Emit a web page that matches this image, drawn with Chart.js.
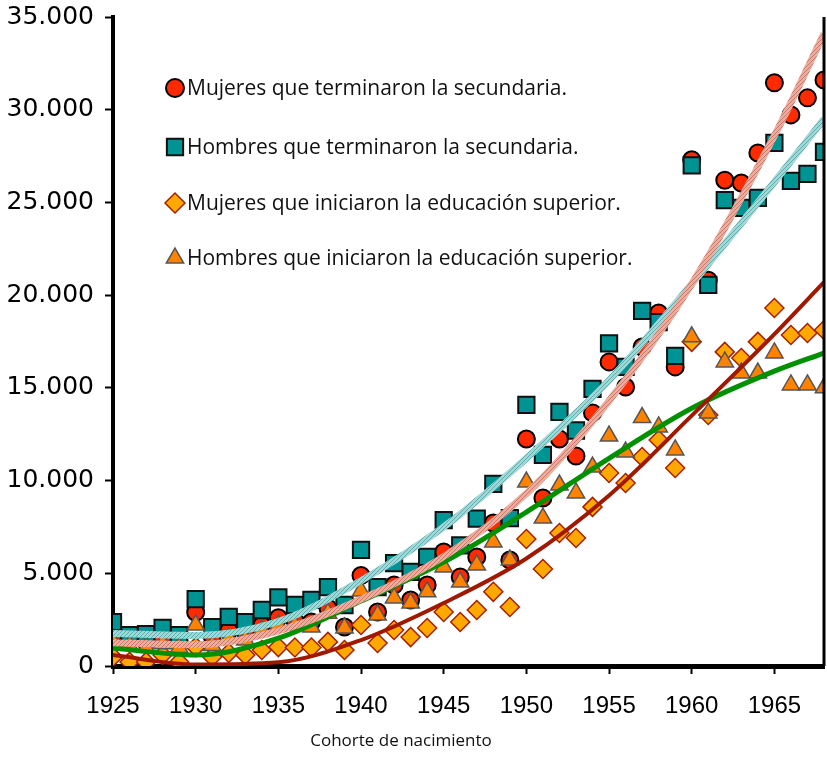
<!DOCTYPE html>
<html>
<head>
<meta charset="utf-8">
<script src="https://cdn.jsdelivr.net/npm/chart.js@4.4.1/dist/chart.umd.min.js"></script>
<style>
  html, body { margin: 0; padding: 0; background: #fff; }
  #wrap { width: 827px; height: 757px; }
</style>
</head>
<body>
<div id="wrap"><canvas id="chart" width="827" height="757"></canvas></div>
<script>
// Data (cohort year -> count)
const years = [1925, 1926, 1927, 1928, 1929, 1930, 1931, 1932, 1933, 1934,
               1935, 1936, 1937, 1938, 1939, 1940, 1941, 1942, 1943, 1944,
               1945, 1946, 1947, 1948, 1949, 1950, 1951, 1952, 1953, 1954,
               1955, 1956, 1957, 1958, 1959, 1960, 1961, 1962, 1963, 1964,
               1965, 1966, 1967, 1968];

const mujeresSecundaria = [1650, 1400, 1300, 1500, 1300, 2900, 1600, 1900, 1800, 2200,
                           2600, 2450, 2370, 3130, 2100, 4880, 2910, 4370, 3560, 4370,
                           6150, 4800, 5880, 7710, 5720, 12240, 9060, 12240, 11330, 13650,
                           16400, 15050, 17200, 19040, 16130, 27300, 20800, 26200, 26050, 27670,
                           31450, 29720, 30640, 31600];

const hombresSecundaria = [2370, 1670, 1720, 2050, 1670, 3610, 2100, 2650, 2370, 3020,
                           3700, 3290, 3560, 4260, 3290, 6260, 4260, 5550, 5070, 5880,
                           7870, 6500, 7950, 9820, 7980, 14080, 11380, 13700, 12700, 14940,
                           17400, 16130, 19150, 18550, 16720, 27000, 20550, 25130, 24700, 25240,
                           28210, 26160, 26540, 27720];

const mujeresSuperior = [490, 220, 220, 590, 220, 1020, 490, 700, 590, 860,
                         1020, 1000, 1000, 1300, 860, 2210, 1240, 1940, 1560, 2050,
                         2910, 2370, 3020, 4000, 3180, 6850, 5230, 7170, 6900, 8580,
                         10410, 9870, 11270, 12190, 10680, 17480, 13540, 16940, 16610, 17480,
                         19310, 17850, 17960, 18120];

const hombresSuperior = [1300, 1100, 1000, 1200, 1000, 2210, 1100, 1500, 1400, 1940,
                         2210, 2210, 2100, 2850, 2050, 4050, 2750, 3670, 3400, 4000,
                         5340, 4530, 5450, 6690, 5720, 9920, 7980, 9760, 9330, 10730,
                         12400, 11540, 13400, 12890, 11650, 17750, 13650, 16400, 15800, 15800,
                         16880, 15160, 15160, 15000];

// trend lines, values at these years
const trendYears = [1925, 1930, 1935, 1940, 1945, 1950, 1955, 1960, 1965, 1968];
const trendMujeresSecundaria = [1250, 1150, 1900, 3600, 5900, 9300, 14300, 20600, 28600, 34100];
const trendHombresSecundaria = [1750, 1650, 2400, 4600, 7500, 11200, 15400, 20600, 26100, 29500];
const trendMujeresSuperior = [590, 80, 200, 1400, 3400, 5800, 9200, 13500, 17900, 20700];
const trendHombresSuperior = [970, 590, 1500, 3500, 5600, 8300, 11200, 13900, 15900, 16880];

const seriesNames = [
  'Mujeres que terminaron la secundaria.',
  'Hombres que terminaron la secundaria.',
  'Mujeres que iniciaron la educación superior.',
  'Hombres que iniciaron la educación superior.'
];

const xTicks = [1925, 1930, 1935, 1940, 1945, 1950, 1955, 1960, 1965];
const xTitle = 'Cohorte de nacimiento';

function toPoints(xs, values) {
  return values.map((v, i) => ({ x: xs[i], y: v }));
}

// speckled texture for the two wide trend lines
function speckle(base, dot) {
  const c = document.createElement('canvas');
  c.width = 4; c.height = 4;
  const g = c.getContext('2d');
  g.fillStyle = base;
  g.fillRect(0, 0, 4, 4);
  g.fillStyle = dot;
  g.fillRect(0, 0, 1, 1);
  g.fillRect(2, 2, 1, 1);
  g.fillRect(1, 3, 1, 1);
  g.fillRect(3, 1, 1, 1);
  return document.getElementById('chart').getContext('2d').createPattern(c, 'repeat');
}

const salmonLine = speckle('rgb(236,172,158)', 'rgb(205,120,105)');
const tealLine = speckle('rgb(160,215,215)', 'rgb(95,175,178)');

function fmt(v) {
  return String(v).replace(/\B(?=(\d{3})+(?!\d))/g, '.');
}

const markerStyles = [
  { pointStyle: 'circle', radius: 8.5, bg: '#ff2a00', border: '#000000', bw: 2 },
  { pointStyle: 'rect', radius: 11.5, bg: '#009393', border: '#111111', bw: 2 },
  { pointStyle: 'rectRot', radius: 9.5, bg: '#ffa800', border: '#a52000', bw: 1.5 },
  { pointStyle: 'triangle', radius: 10, bg: '#ff8200', border: '#555555', bw: 1.5 }
];
const seriesValues = [mujeresSecundaria, hombresSecundaria, mujeresSuperior, hombresSuperior];
const trendValues = [trendMujeresSecundaria, trendHombresSecundaria, trendMujeresSuperior, trendHombresSuperior];
const trendColors = [salmonLine, tealLine, '#a01800', '#009000'];
const trendWidths = [7, 7, 4, 5];
const scatterOrder = [4, 3, 2, 1];

const datasets = [];
seriesValues.forEach((vals, i) => {
  const m = markerStyles[i];
  datasets.push({
    type: 'scatter',
    label: seriesNames[i],
    data: toPoints(years, vals),
    pointStyle: m.pointStyle,
    pointRadius: m.radius,
    pointHoverRadius: m.radius,
    backgroundColor: m.bg,
    borderColor: m.border,
    borderWidth: m.bw,
    order: scatterOrder[i]
  });
});
trendValues.forEach((vals, i) => {
  datasets.push({
    type: 'line',
    label: 'Tendencia ' + (i + 1),
    data: toPoints(trendYears, vals),
    borderColor: trendColors[i],
    borderWidth: trendWidths[i],
    pointRadius: 0,
    cubicInterpolationMode: 'monotone',
    fill: false,
    order: 0
  });
});

// legend drawn inside the plot, the frame on the right side and the x title
const insideLegend = {
  id: 'insideLegend',
  afterDraw(chart) {
    const ctx = chart.ctx;
    const area = chart.chartArea;
    ctx.save();
    ctx.strokeStyle = '#000';
    ctx.lineWidth = 3;
    ctx.beginPath();
    ctx.moveTo(area.right, area.top);
    ctx.lineTo(area.right, area.bottom);
    ctx.stroke();

    const rowY = [88, 147, 203, 258];
    ctx.font = '21px "Open Sans"';
    ctx.textBaseline = 'middle';
    ctx.textAlign = 'left';
    seriesNames.forEach((name, i) => {
      const m = markerStyles[i];
      ctx.fillStyle = m.bg;
      ctx.strokeStyle = m.border;
      ctx.lineWidth = m.bw;
      const r = m.pointStyle === 'rect' ? 11.5 : (m.pointStyle === 'circle' ? 9 : 10);
      Chart.helpers.drawPoint(ctx, { pointStyle: m.pointStyle, radius: r, rotation: 0, borderWidth: m.bw }, 175, rowY[i]);
      ctx.fillStyle = '#111';
      ctx.fillText(name, 187, rowY[i] + 1);
    });

    ctx.font = '17px "Open Sans"';
    ctx.textAlign = 'center';
    ctx.fillStyle = '#111';
    ctx.fillText(xTitle, 401, 741);
    ctx.restore();
  }
};

new Chart(document.getElementById('chart'), {
  data: { datasets: datasets },
  options: {
    responsive: false,
    animation: false,
    layout: { autoPadding: false, padding: { top: 17, right: 3, left: 0, bottom: 0 } },
    plugins: {
      legend: { display: false },
      tooltip: { enabled: false }
    },
    scales: {
      x: {
        type: 'linear',
        min: 1925,
        max: 1968,
        afterBuildTicks: scale => {
          scale.ticks = xTicks.map(v => ({ value: v }));
        },
        afterFit: scale => {
          scale.height = 91;
          scale.paddingLeft = 0;
          scale.paddingRight = 0;
        },
        ticks: {
          autoSkip: false,
          maxRotation: 0,
          padding: 18,
          color: '#000',
          font: { family: '"Liberation Sans", Arial', size: 24 },
          callback: v => String(v)
        },
        grid: { drawOnChartArea: false, drawTicks: true, tickLength: 8, tickWidth: 2, tickColor: '#000' },
        border: { display: true, color: '#000', width: 5 }
      },
      y: {
        type: 'linear',
        min: 0,
        max: 35000,
        afterFit: scale => {
          scale.width = 113;
          scale.paddingTop = 0;
          scale.paddingBottom = 0;
        },
        ticks: {
          stepSize: 5000,
          padding: 11,
          color: '#000',
          font: { family: '"DejaVu Sans", Verdana', size: 25 },
          callback: v => fmt(v)
        },
        grid: { drawOnChartArea: false, drawTicks: true, tickLength: 8, tickWidth: 2, tickColor: '#000' },
        border: { display: true, color: '#000', width: 4 }
      }
    }
  },
  plugins: [insideLegend]
});
</script>
</body>
</html>
